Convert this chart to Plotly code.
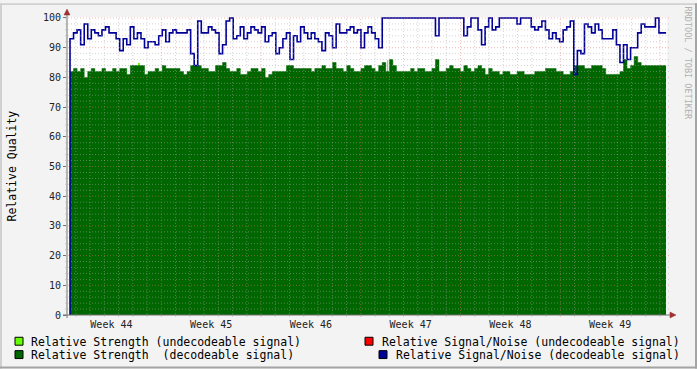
import plotly.graph_objects as go

# ---------------- data ----------------
week_labels = ["Week 44", "Week 45", "Week 46", "Week 47", "Week 48", "Week 49"]
week_label_days = [3.5, 10.5, 17.5, 24.5, 31.5, 38.5]
y_tick_values = [0, 10, 20, 30, 40, 50, 60, 70, 80, 90, 100]

sample_start_day = 0.593   # days after start of week 44
sample_step_days = 0.249

strength_decodeable = [
    82, 83, 82, 83, 80, 82, 83, 82, 82, 83, 82, 82, 83, 82, 83, 83, 81, 84, 84, 84, 84, 81, 82, 82, 83, 82, 84, 83, 83,
    83, 83, 82, 81, 82, 84, 84, 84, 83, 83, 82, 82, 84, 84, 85, 83, 82, 82, 83, 81, 81, 82, 83, 83, 82, 83, 80, 81,
    82, 82, 82, 82, 84, 84, 83, 83, 83, 83, 83, 82, 83, 83, 84, 83, 83, 85, 83, 83, 82, 84, 83, 82, 82, 83, 84, 84,
    83, 82, 84, 85, 82, 86, 84, 82, 82, 82, 82, 83, 82, 83, 83, 82, 82, 83, 86, 82, 82, 83, 84, 83, 83, 82, 84, 83,
    82, 83, 84, 83, 81, 83, 82, 82, 81, 82, 82, 81, 81, 82, 82, 81, 81, 81, 82, 82, 82, 83, 83, 83, 82, 82, 81, 81,
    82, 84, 84, 84, 83, 83, 84, 84, 84, 83, 81, 81, 81, 81, 82, 86, 83, 84, 87, 85, 84, 84, 84, 84, 84, 84, 84,
]

snr_decodeable = [
    93, 95, 96, 91, 98, 93, 96, 95, 94, 96, 97, 95, 95, 93, 89, 93, 91, 97, 93, 95, 93, 90, 92, 92, 91, 94, 96, 92, 95,
    96, 95, 95, 95, 96, 88, 84, 99, 95, 95, 97, 96, 95, 88, 91, 99, 100, 93, 94, 97, 93, 95, 97, 96, 95, 97, 92, 94,
    95, 88, 90, 93, 95, 86, 94, 92, 97, 95, 93, 95, 93, 92, 89, 95, 94, 90, 98, 95, 95, 96, 97, 95, 96, 90, 95, 97,
    95, 93, 90, 100, 100, 100, 100, 100, 100, 100, 100, 100, 100, 100, 100, 100, 100, 100, 94, 100, 100, 100, 100, 100, 100, 100, 94, 97,
    100, 100, 96, 91, 97, 100, 96, 97, 100, 100, 100, 100, 100, 98, 100, 100, 100, 97, 96, 97, 99, 96, 93, 95, 93, 92, 96, 97,
    99, 81, 89, 88, 98, 97, 95, 98, 96, 93, 93, 93, 96, 91, 85, 91, 86, 90, 90, 95, 98, 97, 97, 97, 100, 95, 95,
]

strength_undecodeable_index = [19, 89]
strength_undecodeable_value = [85, 86]

# ---------------- geometry ----------------
W, H = 697, 369
L, R, T, B = 67, 30, 14, 54
PW, PH = W - L - R, H - T - B
x_range = [0.382, 42.49]
y_range = [0, 100.333]

def px(xp):
    return (xp - L) / PW

def py(yp):
    return (T + PH - yp) / PH

FONT = "DejaVu Sans Mono"

n = len(strength_decodeable)
days = [sample_start_day + sample_step_days * i for i in range(n + 1)]

gx = days
gy = strength_decodeable + [strength_decodeable[-1]]
bx = [days[0]] + days
by = [0] + snr_decodeable + [snr_decodeable[-1]]

fig = go.Figure()

fig.add_trace(go.Bar(
    x=[days[i] + sample_step_days / 2 for i in strength_undecodeable_index],
    y=strength_undecodeable_value,
    width=0.05, marker=dict(color="#66ff00", line=dict(width=0)),
    showlegend=False, hoverinfo="skip"))

fig.add_trace(go.Scatter(
    x=gx, y=gy, mode="lines",
    line=dict(shape="hv", width=0.5, color="#006600"),
    fill="tozeroy", fillcolor="#006600",
    showlegend=False, hoverinfo="skip"))

fig.add_trace(go.Scatter(
    x=bx, y=by, mode="lines",
    line=dict(shape="hv", width=1.6, color="#000099"),
    showlegend=False, hoverinfo="skip"))

shapes = []
minor_c = "rgba(170,170,170,0.5)"
major_c = "rgba(235,110,110,0.5)"
# vertical grid (daily minor, weekly major)
for d in range(1, 43):
    shapes.append(dict(type="line", xref="x", yref="paper", x0=d, x1=d,
                       y0=-2 / PH, y1=1, layer="above",
                       line=dict(color=major_c if d % 7 == 0 else minor_c, width=1, dash="1px,2px")))
# horizontal grid
for v in range(2, 101, 2):
    shapes.append(dict(type="line", xref="paper", yref="y", x0=-2 / PW, x1=1 + 2 / PW,
                       y0=v, y1=v, layer="above",
                       line=dict(color=major_c if v % 10 == 0 else minor_c, width=1, dash="1px,2px")))
# axes
axis_c = "#707070"
shapes.append(dict(type="line", xref="paper", yref="paper", x0=0, x1=0,
                   y0=py(318), y1=py(11), line=dict(color=axis_c, width=1), layer="above"))
shapes.append(dict(type="line", xref="paper", yref="paper", x0=px(63), x1=px(670),
                   y0=0, y1=0, line=dict(color=axis_c, width=1), layer="above"))
arrow_c = "#a03030"
shapes.append(dict(type="path", xref="paper", yref="paper", layer="above",
                   path=f"M {px(67)},{py(6)} L {px(64)},{py(12)} L {px(70)},{py(12)} Z",
                   fillcolor=arrow_c, line=dict(color=arrow_c, width=0.5)))
shapes.append(dict(type="path", xref="paper", yref="paper", layer="above",
                   path=f"M {px(676)},{py(315)} L {px(670)},{py(312)} L {px(670)},{py(318)} Z",
                   fillcolor=arrow_c, line=dict(color=arrow_c, width=0.5)))

# frame
def rect(x0, y0, x1, y1, color, line_color=None, lw=0):
    return dict(type="rect", xref="paper", yref="paper",
                x0=px(x0), x1=px(x1), y0=py(y0), y1=py(y1),
                fillcolor=color, line=dict(color=line_color or color, width=lw), layer="above")

shapes.append(rect(0, 0, W, 2, "#d0d0d0"))
shapes.append(rect(0, 0, 2, H, "#d0d0d0"))
shapes.append(rect(0, H - 2, W, H, "#a4a4a4"))
shapes.append(rect(W - 2, 0, W, H, "#a4a4a4"))

# legend boxes
legend_items = [
    ("Relative Strength (undecodeable signal)", "#66ff00", 15, 337.5, "left", 30),
    ("Relative Strength\u00a0 (decodeable signal)", "#006600", 15, 351, "left", 30),
    ("Relative Signal/Noise (undecodeable signal)", "#ff0000", 365, 337.5, "right", 681),
    ("Relative Signal/Noise (decodeable signal)", "#000099", 379, 351, "right", 681),
]
annotations = []
for text, color, bx0, by0, anchor, tx in legend_items:
    shapes.append(rect(bx0, by0, bx0 + 8, by0 + 8, color, "#000000", 1))
    annotations.append(dict(xref="paper", yref="paper", x=px(tx), y=py(by0 + 4.3),
                            text=text, showarrow=False, xanchor=anchor, yanchor="middle",
                            borderpad=0, font=dict(family=FONT, size=11.5, color="#000000")))

annotations.append(dict(xref="paper", yref="paper", x=px(12), y=py(165), text="Relative Quality",
                        textangle=-90, showarrow=False, xanchor="center", yanchor="middle",
                        borderpad=0, font=dict(family=FONT, size=11.5, color="#000000")))
annotations.append(dict(xref="paper", yref="paper", x=px(688), y=py(60), text="RRDTOOL / TOBI OETIKER",
                        textangle=90, showarrow=False, xanchor="center", yanchor="middle",
                        borderpad=0, font=dict(family=FONT, size=8.5, color="#b0b0b0")))

fig.update_layout(
    width=W, height=H,
    margin=dict(l=L, r=R, t=T, b=B, pad=0),
    paper_bgcolor="#f3f3f3", plot_bgcolor="#ffffff",
    showlegend=False, bargap=0,
    shapes=shapes, annotations=annotations,
    xaxis=dict(range=x_range, tickvals=week_label_days, ticktext=week_labels,
               showgrid=False, zeroline=False, showline=False, ticks="",
               ticklabelstandoff=2,
               tickfont=dict(family=FONT, size=10, color="#222222"), fixedrange=True),
    yaxis=dict(range=y_range, tickvals=y_tick_values, showgrid=False, zeroline=False,
               showline=False, ticks="outside", ticklen=3, tickcolor="#707070",
               tickfont=dict(family=FONT, size=10, color="#222222"), fixedrange=True),
)

fig.write_html("out.html", config={"displayModeBar": False},
               post_script="document.body.style.margin='0';document.body.style.padding='0';")
